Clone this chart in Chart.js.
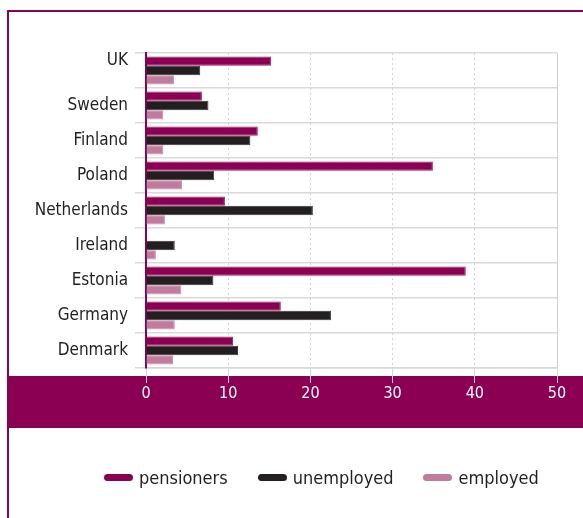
<!DOCTYPE html>
<html>
<head>
<meta charset="utf-8">
<script src="https://cdn.jsdelivr.net/npm/chart.js@4/dist/chart.umd.min.js"></script>
<style>
  html, body { margin: 0; padding: 0; background: #fff; }
  #wrap { position: relative; width: 583px; height: 518px; overflow: hidden; }
  #frame { position: absolute; left: 7px; top: 10px; width: 600px; height: 520px;
           border-top: 2px solid #8b0052; border-left: 2px solid #8b0052; box-sizing: border-box; }
  #band { position: absolute; left: 7px; top: 376px; width: 600px; height: 52px; background: #8b0052; }
  #chartBox { position: absolute; left: 0; top: 0; width: 583px; height: 518px; }
  #legend { position: absolute; top: 467px; left: 104px; display: flex; align-items: center;
            font-family: "DejaVu Sans Condensed", sans-serif;
            font-size: 18px; color: #231f20; }
  #legend .item { display: flex; align-items: center; margin-right: 30px; }
  #legend .swatch { width: 29px; height: 7px; border-radius: 4px; margin-right: 6px; }
</style>
</head>
<body>
<div id="wrap">
  <div id="frame"></div>
  <div id="band"></div>
  <div id="chartBox"><canvas id="barChart" width="583" height="518"></canvas></div>
  <div id="legend"></div>
</div>
<script>
// data
const countries = ['UK', 'Sweden', 'Finland', 'Poland', 'Netherlands', 'Ireland', 'Estonia', 'Germany', 'Denmark'];
const pensioners = [15.2, 6.8, 13.6, 34.9, 9.6, 0, 38.9, 16.4, 10.6];
const unemployed = [6.6, 7.6, 12.7, 8.3, 20.3, 3.5, 8.2, 22.5, 11.2];
const employed = [3.4, 2.1, 2.1, 4.4, 2.3, 1.2, 4.3, 3.5, 3.3];
const xTicks = [0, 10, 20, 30, 40, 50];

const seriesNames = ['pensioners', 'unemployed', 'employed'];
const seriesColors = ['#8b0052', '#231f20', '#c07b9e'];
const seriesBorders = ['#9a1a62', '#3a3536', '#c98aaa'];

const fontFamily = '"DejaVu Sans Condensed", sans-serif';

const datasets = [pensioners, unemployed, employed].map((values, i) => ({
    label: seriesNames[i],
    data: values,
    backgroundColor: seriesColors[i],
    borderColor: seriesBorders[i],
    borderWidth: 1,
    categoryPercentage: 0.8,
    barPercentage: 1.0
}));

const ctx = document.getElementById('barChart');

const barChart = new Chart(ctx, {
    type: 'bar',
    data: {
        labels: countries,
        datasets: datasets
    },
    options: {
        responsive: false,
        animation: false,
        indexAxis: 'y',
        layout: {
            padding: { top: 53, right: 26, bottom: 0, left: 0 }
        },
        scales: {
            x: {
                min: xTicks[0],
                max: xTicks[xTicks.length - 1],
                afterBuildTicks: (scale) => {
                    scale.ticks = xTicks.map(v => ({ value: v }));
                },
                afterFit: (scale) => { scale.height = 150; },
                grid: {
                    color: '#d2d2d2',
                    lineWidth: 1,
                    tickLength: 15,
                    tickColor: '#d6d6d6'
                },
                border: {
                    display: true,
                    color: '#d6d6d6',
                    width: 1.5,
                    dash: (c) => (c.tick && c.tick.value === 50 ? [] : [2, 3])
                },
                ticks: {
                    color: '#ffffff',
                    font: { family: fontFamily, size: 16 },
                    padding: 1,
                    maxRotation: 0
                }
            },
            y: {
                afterFit: (scale) => { scale.width = 146; },
                grid: {
                    offset: true,
                    color: '#d9d9d9',
                    lineWidth: 1.5,
                    tickLength: 11,
                    tickColor: '#d9d9d9'
                },
                border: {
                    display: true,
                    color: '#8b0052',
                    width: 2
                },
                ticks: {
                    autoSkip: false,
                    color: '#231f20',
                    font: { family: fontFamily, size: 17 },
                    padding: 7,
                    callback: (v, i) => (i === 0 ? [countries[i], ''] : countries[i])
                }
            }
        },
        plugins: {
            legend: { display: false },
            tooltip: { enabled: false }
        }
    }
});

// html legend built from the chart's legend items
function buildLegend(chart) {
    const box = document.getElementById('legend');
    chart.legend.legendItems.forEach((item) => {
        const div = document.createElement('DIV');
        div.className = 'item';
        const swatch = document.createElement('SPAN');
        swatch.className = 'swatch';
        swatch.style.backgroundColor = item.fillStyle;
        const text = document.createElement('SPAN');
        text.textContent = item.text;
        div.appendChild(swatch);
        div.appendChild(text);
        box.appendChild(div);
    });
}
buildLegend(barChart);
</script>
</body>
</html>
